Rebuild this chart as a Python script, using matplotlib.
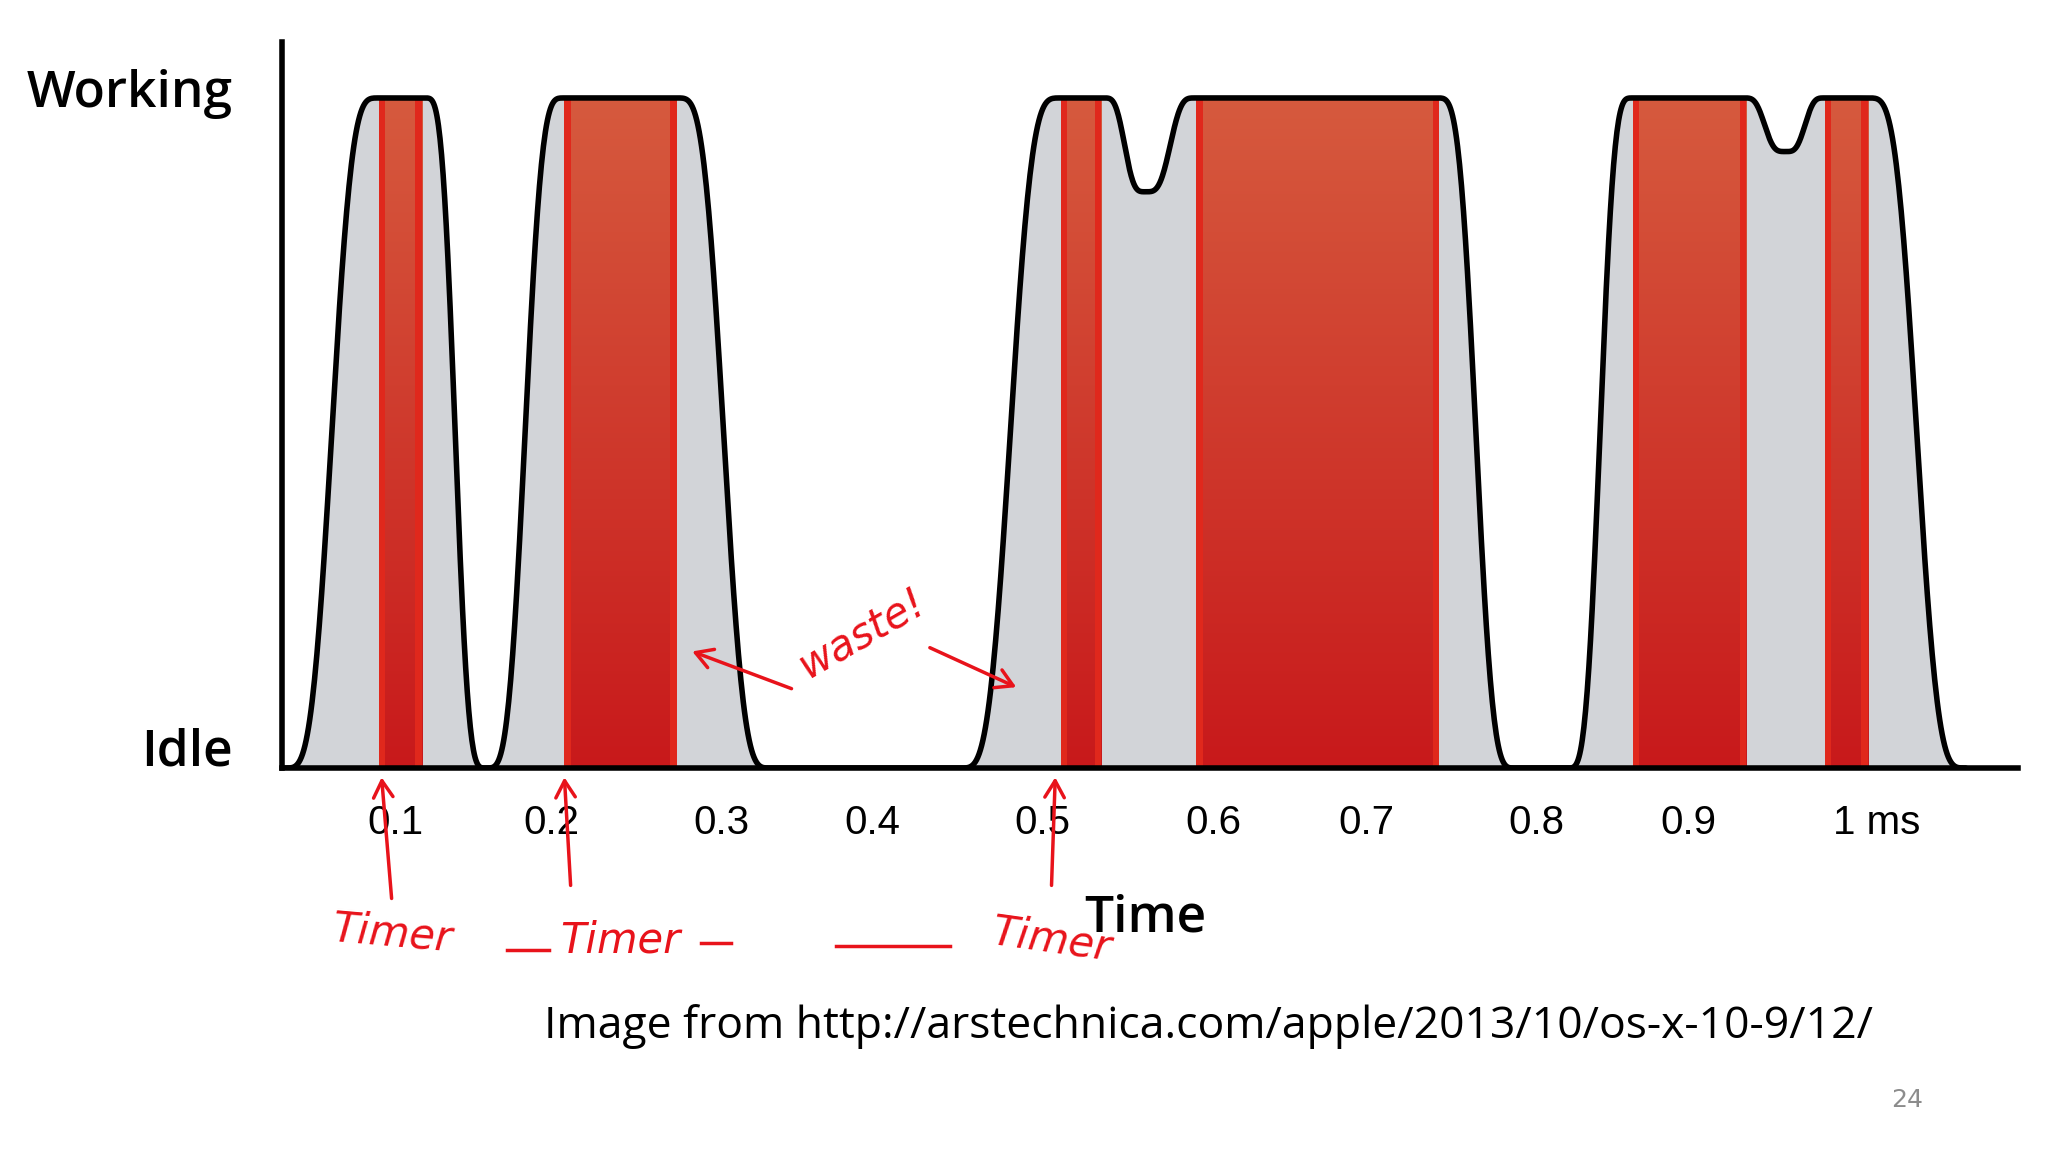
import numpy as np
import matplotlib
matplotlib.use("Agg")
import matplotlib.pyplot as plt
from matplotlib.colors import LinearSegmentedColormap

# ---- data (x in reference display units, y: 0 = Idle, 1 = Working) ----
tick_pos = [303, 422, 552, 668, 798, 929, 1046, 1176, 1293, 1437]
tick_labels = ["0.1", "0.2", "0.3", "0.4", "0.5", "0.6", "0.7", "0.8", "0.9", "1 ms"]
curve_x = [218, 290, 325, 372, 432, 518, 590, 735, 812, 845, 877, 915, 1100, 1160, 1200, 1250, 1335, 1367, 1397, 1430, 1505]
curve_y = [0, 1, 1, 0, 1, 1, 0, 0, 1, 1, 0.86, 1, 1, 0, 0, 1, 1, 0.92, 1, 1, 0]
band_start = [290, 432, 812, 916, 1250, 1397]
band_end = [323, 518, 843, 1102, 1337, 1430]

W, H = 1568, 882
fig = plt.figure(figsize=(20.48, 11.52), dpi=100)
fig.patch.set_facecolor("white")
ax = fig.add_axes([216/W, 1-588/H, (1545-216)/W, (588-32)/H])
ax.set_xlim(216, 1545)
ax.set_ylim(0, (588-32)/(588-75))

xs, ys = [], []
for i in range(len(curve_x)-1):
    t = np.linspace(0, 1, 80)
    s = (1-np.cos(np.pi*t))/2
    s = s*s*(3-2*s)
    xs.append(curve_x[i] + (curve_x[i+1]-curve_x[i])*t)
    ys.append(curve_y[i] + (curve_y[i+1]-curve_y[i])*s)
xs = np.concatenate(xs); ys = np.concatenate(ys)
ax.fill_between(xs, 0, ys, color="#d2d4d8", zorder=1)

grad = np.linspace(0, 1, 256).reshape(-1, 1)
cmap = LinearSegmentedColormap.from_list("r", ["#c8191b", "#d65a3e"])
for a, b in zip(band_start, band_end):
    ax.imshow(grad, extent=(a, b, 0, 1), origin="lower", cmap=cmap, aspect="auto", zorder=2)
    for e in (a, b-5):
        ax.fill_between([e, e+5], 0, 1, color="#e0281c", zorder=2.5, lw=0)
ax.plot(xs, ys, color="black", lw=4, zorder=3, solid_capstyle="round")

for s in ["top", "right"]:
    ax.spines[s].set_visible(False)
ax.spines["left"].set_linewidth(4)
ax.spines["bottom"].set_linewidth(4)
ax.set_yticks([])
ax.set_xticks(tick_pos)
ax.set_xticklabels(tick_labels, fontsize=29, fontfamily="Liberation Sans")
ax.tick_params(axis="x", length=0, pad=26)

fig.text(178/W, 1-72/H, "Working", fontsize=37, ha="right", va="center", fontfamily="Open Sans", fontweight="semibold")
fig.text(178/W, 1-576/H, "Idle", fontsize=37, ha="right", va="center", fontfamily="Open Sans", fontweight="semibold")
fig.text(877/W, 1-703/H, "Time", fontsize=37, ha="center", va="center", fontfamily="Open Sans", fontweight="semibold")
fig.text(925/W, 1-786/H, "Image from http://arstechnica.com/apple/2013/10/os-x-10-9/12/",
         fontsize=32, ha="center", va="center", fontfamily="Open Sans")
fig.text(1460/W, 1-842/H, "24", fontsize=18, color="#8c8c8c", ha="center", va="center")

red = "#e8131b"
def fx(x, y): return (x/W, 1-y/H)
for (x0, y0), (x1, y1) in [((300, 690), (292, 593)), ((437, 680), (432, 593)), ((805, 680), (808, 593)),
                           ((608, 528), (528, 498)), ((710, 495), (780, 527))]:
    fig.add_artist(matplotlib.patches.FancyArrowPatch(fx(x0, y0), fx(x1, y1), transform=fig.transFigure,
                   arrowstyle="->,head_length=12,head_width=7", color=red, lw=2.5))
for x, y, t, r in [(300, 715, "Timer", -5), (475, 720, "Timer", 0), (805, 720, "Timer", -8), (660, 485, "waste!", 30)]:
    fig.text(x/W, 1-y/H, t, fontsize=30, color=red, ha="center", va="center", rotation=r,
             fontstyle="italic", fontfamily="DejaVu Sans", fontweight="light")
for x0, x1, y in [(388, 420, 727), (537, 560, 722), (640, 727, 724)]:
    fig.add_artist(plt.Line2D([x0/W, x1/W], [1-y/H, 1-y/H], color=red, lw=2.5, transform=fig.transFigure))

fig.savefig("out.png", dpi=100)
